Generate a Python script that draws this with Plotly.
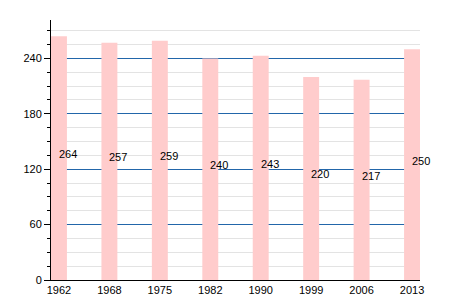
import plotly.graph_objects as go

years = ["1962", "1968", "1975", "1982", "1990", "1999", "2006", "2013"]
population = [264, 257, 259, 240, 243, 220, 217, 250]
major_ticks = [0, 60, 120, 180, 240]
minor_ticks = [15, 30, 45, 75, 90, 105, 135, 150, 165, 195, 210, 225, 255, 270]

fig = go.Figure()
fig.add_trace(go.Bar(
    x=years, y=population,
    marker=dict(color="#ffcccc", line=dict(width=0)),
    width=0.316,
    hoverinfo="skip",
))

for i, v in enumerate(population):
    fig.add_annotation(
        x=i, y=v / 2, text=str(v), showarrow=False,
        xanchor="left", yanchor="middle", xshift=-2, yshift=4,
        font=dict(family="Liberation Sans, Arial", size=11, color="#000"),
    )

fig.update_layout(
    width=450, height=300,
    margin=dict(l=51, r=30, t=20, b=20),
    paper_bgcolor="white", plot_bgcolor="white",
    showlegend=False,
    font=dict(family="Liberation Sans, Arial", size=11, color="#000"),
    barmode="overlay",
)
fig.update_xaxes(
    type="category", range=[-0.158, 7.158], automargin=False,
    showline=True, linecolor="#000", linewidth=1,
    showgrid=False, ticks="", tickfont=dict(size=11),
)
fig.update_yaxes(
    range=[0, 281.6], tickmode="array", tickvals=major_ticks, automargin=False,
    showline=True, linecolor="#000", linewidth=1,
    ticks="outside", ticklen=6, tickcolor="#000", tickwidth=1,
    showgrid=True, gridcolor="#2266aa", gridwidth=1,
    zeroline=False, layer="below traces",
    minor=dict(tickmode="array", tickvals=minor_ticks, ticks="outside", ticklen=3,
               tickcolor="#000", showgrid=True, gridcolor="#e3e3e3", gridwidth=1),
    tickfont=dict(size=11),
)

fig.write_html("out.html")
